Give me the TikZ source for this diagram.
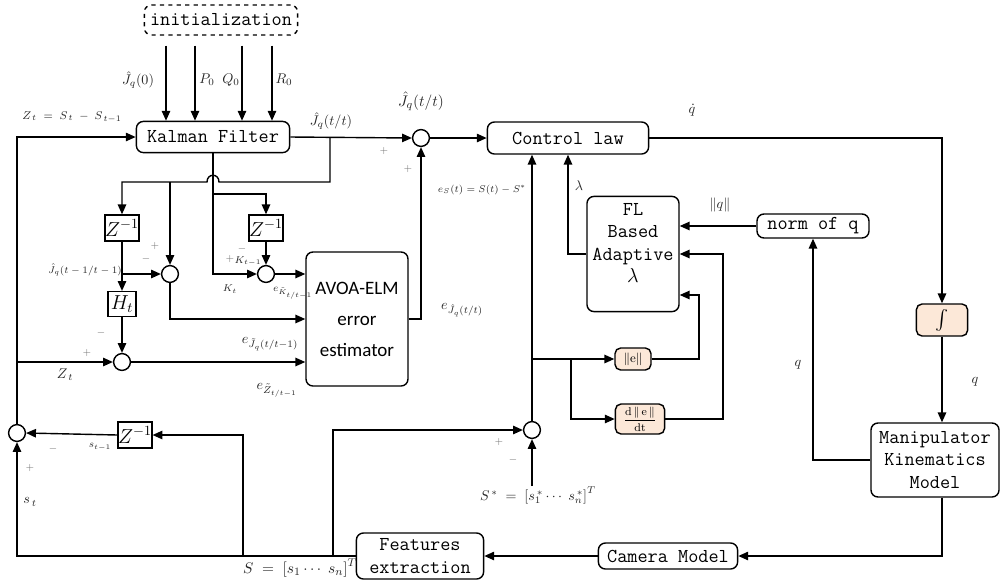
\documentclass[tikz,border=0pt]{standalone}
\usepackage{fontspec}
\usepackage{amsmath, amssymb}
\newfontfamily\avoafont{Carlito}
\usetikzlibrary{arrows.meta, positioning, calc}
\definecolor{opfill}{RGB}{252,232,216}
\tikzstyle{arrow}=[-{Triangle[length=7pt,width=6pt]}, line width=1pt, color=black]
\tikzstyle{wire}=[line width=1pt, color=black]

\begin{document}
\begin{tikzpicture}[x=0.025cm, y=-0.025cm,
  blk/.style={rectangle, rounded corners=5pt, draw, line width=1pt,
              align=center, inner sep=1pt,
              font=\ttfamily\fontsize{14}{16}\selectfont},
  delay/.style={rectangle, draw, line width=1pt, minimum width=0.7cm,
                minimum height=0.65cm, inner sep=0pt,
                font=\fontsize{14}{15}\selectfont},
  summer/.style={circle, draw, line width=1pt, minimum size=0.42cm,
                 inner sep=0pt},
  op/.style={rectangle, rounded corners=4pt, draw, line width=1pt,
             fill=opfill, inner sep=1pt},
  lab/.style={inner sep=0pt, text=black!85, font=\fontsize{10}{12}\selectfont},
  sgn/.style={inner sep=0pt, text=black!55, font=\scriptsize}
]
\useasboundingbox (0,0) rectangle (1001,581);

% Kalman filter stage
\node[blk, dashed, minimum width=3.83cm, minimum height=0.75cm] (init) at (221,20) {initialization};
\node[blk, minimum width=3.83cm, minimum height=0.78cm] (kf) at (213,137) {Kalman Filter};
\node[summer] (sumJ) at (421,138) {};
\node[blk, minimum width=4.03cm, minimum height=0.8cm] (ctrl) at (568,138) {Control law};

% Error estimation branch
\node[delay] (zinvA) at (122,228) {$Z^{-1}$};
\node[delay, minimum height=0.62cm] (ht) at (122,304) {$H_t$};
\node[delay] (zinvB) at (266,228) {$Z^{-1}$};
\node[summer] (sumA) at (170,274) {};
\node[summer] (sumK) at (266,274) {};
\node[summer] (sumZ) at (122,362) {};
\node[blk, font=\avoafont\fontsize{13.5}{22}\selectfont, minimum width=2.55cm,
      minimum height=3.35cm] (avoa) at (357,319) {AVOA-ELM\\error\\estimator};

% Adaptive gain
\node[blk, minimum width=2.3cm, minimum height=2.88cm] (fl) at (633,254) {FL\\Based\\Adaptive\\$\lambda$\\\mbox{}};
\node[blk, minimum width=2.8cm, minimum height=0.6cm] (norm) at (813,226) {norm of q};
\node[op, minimum width=0.9cm, minimum height=0.55cm, font=\small] (norme) at (633,359) {$\|\mathrm{e}\|$};
\node[op, minimum width=1.23cm, minimum height=0.75cm, font=\fontsize{8}{9}\selectfont] (dnorme) at (640,419) {$\dfrac{\mathrm{d}\,\|\,\mathrm{e}\,\|}{\mathrm{dt}}$};

% Plant and camera
\node[op, minimum width=1.28cm, minimum height=0.8cm, font=\fontsize{14}{15}\selectfont] (integ) at (942,320) {$\int$};
\node[blk, minimum width=3.2cm, minimum height=1.85cm] (manip) at (935,460) {Manipulator\\Kinematics\\Model};
\node[blk, minimum width=3.48cm, minimum height=0.65cm] (camera) at (668,556) {Camera Model};
\node[blk, minimum width=3.18cm, minimum height=1.15cm] (feat) at (420,556) {Features\\extraction};

% Feature differences
\node[summer] (sumS) at (17,433) {};
\node[delay] (zinvC) at (135,435) {$Z^{-1}$};
\node[summer] (sumE) at (532,430) {};
\node[lab] (sstar) at (538,495) {$S^{\,*}\;=\;\left[s_1^{\,*}\cdots\; s_n^{\,*}\right]^T$};

\coordinate (jtap) at (330,137);
\coordinate (ktap) at (kf.south |- 0,194);
\coordinate (stap) at (243,555);
\coordinate (rtap) at (333,555);
\coordinate (etap) at (532,359);
\coordinate (dtap) at (571,359);

% Initial values
\foreach \x in {166,195,242,272}
  \draw[arrow, shorten <=0.25cm] (init.south -| \x,0) -- (kf.north -| \x,0);

% Upper loop
\draw[arrow] (sumS.north) -- (sumS.north |- kf.west) -- (kf.west);
\draw[arrow] (kf.east) -- (sumJ.west);
\draw[arrow] (sumJ.east) -- (ctrl.west);
\draw[arrow] (jtap) -- (jtap |- 0,182) -- (219,182) .. controls (219,173) and (207,173) .. (207,182)
  -- (zinvA.north |- 0,182) -- (zinvA.north);
\draw[arrow] (sumA.north |- 0,182) -- (sumA.north);
\draw[arrow] (zinvA.south) -- (ht.north);
\draw[arrow] (zinvA.south |- sumA) -- (sumA.west);
\draw[arrow] (ht.south) -- (sumZ.north);
\draw[arrow] (sumA.south) |- (avoa.west);
\draw[arrow] (sumZ.east) -- (sumZ.east -| avoa.west);
\draw[arrow] (sumS.north |- sumZ) -- (sumZ.west);
\draw[arrow] (kf.south) |- (sumK.west);
\draw[arrow] (ktap) -| (zinvB.north);
\draw[arrow] (zinvB.south) -- (sumK.north);
\draw[arrow] (sumK.east) -- (sumK.east -| avoa.west);
\draw[arrow] (avoa.east) -| (sumJ.south);

% Right loop
\draw[arrow] (ctrl.east) -| (integ.north);
\draw[arrow] (integ.south) -- (integ.south |- manip.north);
\draw[arrow] (manip.west) -| (norm.south);
\draw[arrow] (norm.west) -- (norm.west -| fl.east);
\draw[arrow] (integ.south |- manip.south) |- (camera.east);
\draw[arrow] (camera.west) -- (feat.east);
\draw[arrow] (feat.west) -| (sumS.south);
\draw[arrow] (stap) |- (zinvC.east);
\draw[arrow] (zinvC.west) -- (sumS.east);
\draw[arrow] (rtap) |- (sumE.west);
\draw[arrow] (sstar.north -| sumE) -- (sumE.south);
\draw[arrow] (sumE.north) -- (sumE.north |- ctrl.south);
\draw[arrow] (etap) -- (norme.west);
\draw[arrow] (dtap) |- (dnorme.west);
\draw[arrow] (norme.east) -- (norme.east -| 699,0) |- (fl.east |- 0,295);
\draw[arrow] (dnorme.east) -- (dnorme.east -| 723,0) |- (fl.east);
\draw[arrow] (fl.west) -| (ctrl.south);

% Labels
\node[lab] (lJ0) at (138,80) {$\hat{J}_q(0)$};
\node[lab] (lP0) at (207,80) {$P_0$};
\node[lab] (lQ0) at (231,80) {$Q_0$};
\node[lab] (lR0) at (284,80) {$R_0$};
\node[lab, font=\footnotesize] (lZdef) at (72,117) {$Z_{\,t}\;=\;S_{\,t}\;-\;S_{\,t-1}$};
\node[lab] (lJtt) at (331,121) {$\hat{J}_q(t/t)$};
\node[lab, font=\fontsize{11}{13}\selectfont] (lJout) at (421,101) {$\hat{J}_q(t/t)$};
\node[sgn] (pJa) at (384,151) {$+$};
\node[sgn] (pJb) at (408,169) {$+$};
\node[lab] (lqdot) at (692,110) {$\dot{q}$};
\node[lab, font=\fontsize{7.5}{9}\selectfont] (leS) at (482,190) {$e_S(t)=S(t)-S^{*}$};
\node[lab] (llam) at (579,186) {$\lambda$};
\node[lab] (lnq) at (720,205) {$\|q\|$};
\node[lab] (leJ) at (462,310) {$e_{\hat{J}_q(t/t)}$};
\node[sgn] (pA) at (155,246) {$+$};
\node[sgn] (mA) at (146,259) {$-$};
\node[lab, font=\scriptsize] (lJprev) at (85,270) {$\hat{J}_q(t-1/t-1)$};
\node[sgn] (mZ) at (101,333) {$-$};
\node[sgn] (pZ) at (87,353) {$+$};
\node[lab] (lZt) at (65,375) {$Z_{\,t}$};
\node[sgn] (mK) at (242,249) {$-$};
\node[sgn] (pK) at (230,259) {$+$};
\node[lab, font=\scriptsize] (lKprev) at (248,261) {$K_{t-1}$};
\node[lab, font=\scriptsize] (lKt) at (230,289) {$K_t$};
\node[lab, font=\scriptsize] (leK) at (293,293) {$e_{\tilde{K}_{t/t-1}}$};
\node[lab] (leJt) at (270,344) {$e_{\tilde{J}_q(t/t-1)}$};
\node[lab] (leZ) at (277,390) {$e_{\tilde{Z}_{t/t-1}}$};
\node[lab, font=\scriptsize] (lsprev) at (100,447) {$s_{t-1}$};
\node[sgn] (mS) at (53,449) {$-$};
\node[sgn] (pS) at (30,468) {$+$};
\node[lab] (lst) at (30,502) {$s_{\,t}$};
\node[lab, font=\fontsize{11}{13}\selectfont] (lS) at (300,568) {$S\;=\;\left[s_1\cdots\; s_n\right]^T$};
\node[sgn] (pE) at (499,442) {$+$};
\node[sgn] (mE) at (513,460) {$-$};
\node[lab] (lq) at (798,365) {$q$};
\node[lab] (lqb) at (975,382) {$q$};
\end{tikzpicture}
\end{document}
